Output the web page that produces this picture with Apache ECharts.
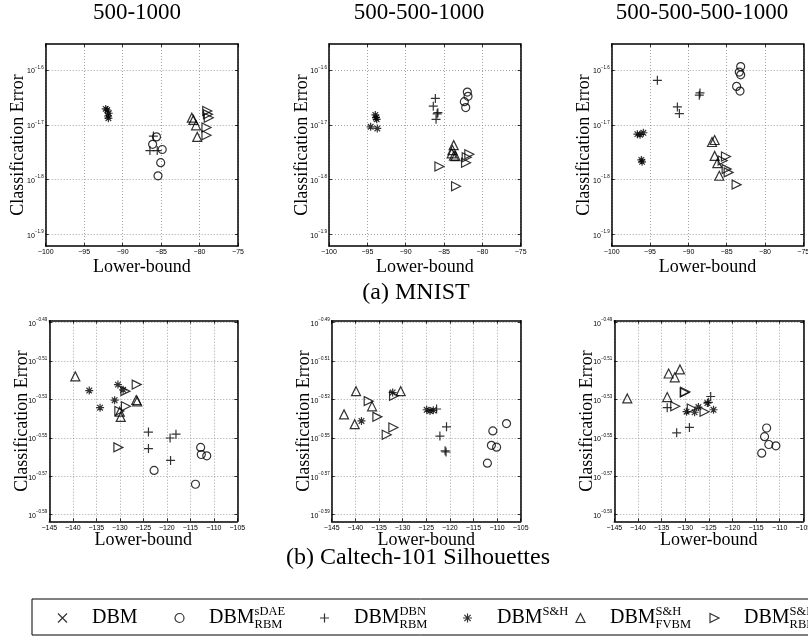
<!DOCTYPE html>
<html><head><meta charset="utf-8">
<script src="https://cdn.jsdelivr.net/npm/echarts@6/dist/echarts.min.js"></script>
<style>html,body{margin:0;padding:0;background:#fff}#c{width:808px;height:637px}</style>
</head><body><div id="c"></div>
<script>
// ---------- text ----------
const columnTitles = ['500-1000', '500-500-1000', '500-500-500-1000'];
const captions = ['(a) MNIST', '(b) Caltech-101 Silhouettes'];
const xName = 'Lower-bound';
const yName = 'Classification Error';

// ---------- series identity ----------
const seriesIds = ['DBM', 'DBM sDAE RBM', 'DBM DBN RBM', 'DBM S&H', 'DBM S&H FVBM', 'DBM S&H RBM'];
const legendBase = ['DBM', 'DBM', 'DBM', 'DBM', 'DBM', 'DBM'];
const legendSup = ['', 'sDAE', 'DBN', 'S&H', 'S&H', 'S&H'];
const legendSub = ['', 'RBM', 'RBM', '', 'FVBM', 'RBM'];

// ---------- axis ranges / ticks (y values are log10 of the classification error) ----------
const mnistX = [-100, -75];
const caltechX = [-145, -105];
const xStep = 5;
const mnistYTicks = [-1.9, -1.8, -1.7, -1.6];
const mnistY = [-1.9208, -1.5528];
const caltechYTicks = [-0.59, -0.57, -0.55, -0.53, -0.51, -0.49];
const caltechY = [-0.5935, -0.489];

// ---------- data: [lower-bound, log10(error)] ----------
// MNIST 500-1000
const m1_sdae = [[-85.6,-1.722],[-86.1,-1.7355],[-84.85,-1.745],[-85.05,-1.769],[-85.4,-1.793]];
const m1_dbn  = [[-86.0,-1.7205],[-86.45,-1.747],[-85.5,-1.747]];
const m1_sh   = [[-92.2,-1.671],[-92.0,-1.673],[-91.8,-1.679],[-91.9,-1.684],[-91.85,-1.688]];
const m1_fvbm = [[-81.0,-1.687],[-80.8,-1.691],[-80.45,-1.701],[-80.3,-1.722]];
const m1_rbm  = [[-79.0,-1.675],[-78.9,-1.681],[-78.8,-1.687],[-79.1,-1.705],[-79.1,-1.719]];
// MNIST 500-500-1000
const m2_sdae = [[-81.96,-1.6404],[-81.87,-1.6482],[-82.35,-1.6578],[-82.17,-1.6687]];
const m2_dbn  = [[-86.13,-1.652],[-86.4,-1.666],[-85.8,-1.678],[-85.9,-1.680],[-86.04,-1.690]];
const m2_sh   = [[-93.96,-1.682],[-93.87,-1.687],[-93.78,-1.690],[-94.57,-1.7036],[-93.7,-1.7066]];
const m2_fvbm = [[-83.74,-1.737],[-83.9,-1.746],[-84.0,-1.752],[-83.7,-1.756],[-83.5,-1.757]];
const m2_rbm  = [[-85.6,-1.776],[-81.7,-1.7536],[-82.04,-1.759],[-82.13,-1.769],[-83.43,-1.812]];
// MNIST 500-500-500-1000
const m3_sdae = [[-83.17,-1.594],[-83.35,-1.604],[-83.17,-1.609],[-83.7,-1.630],[-83.26,-1.6386]];
const m3_dbn  = [[-94.04,-1.619],[-88.48,-1.642],[-88.57,-1.646],[-91.43,-1.6675],[-91.17,-1.6795]];
const m3_sh   = [[-96.65,-1.717],[-95.87,-1.7145],[-96.3,-1.718],[-96.13,-1.7639],[-96.04,-1.7675]];
const m3_fvbm = [[-86.57,-1.7277],[-86.91,-1.7313],[-86.57,-1.7566],[-86.22,-1.770],[-85.96,-1.7928]];
const m3_rbm  = [[-85.09,-1.7578],[-85.52,-1.765],[-85.0,-1.7807],[-84.74,-1.7867],[-83.7,-1.809]];
// Caltech 500-1000
const c1_sdae = [[-112.8,-0.555],[-112.66,-0.5587],[-111.5,-0.5594],[-122.7,-0.567],[-113.9,-0.5742]];
const c1_dbn  = [[-123.9,-0.547],[-123.9,-0.5556],[-119.3,-0.5501],[-118.05,-0.5481],[-119.2,-0.5618]];
const c1_sh   = [[-136.5,-0.5254],[-130.4,-0.5223],[-129.3,-0.525],[-131.1,-0.5304],[-134.2,-0.5343]];
const c1_fvbm = [[-139.47,-0.518],[-126.5,-0.5303],[-126.3,-0.531],[-130.0,-0.5364],[-129.8,-0.5391]];
const c1_rbm  = [[-126.4,-0.5223],[-128.8,-0.5257],[-128.7,-0.5336],[-130.1,-0.536],[-130.3,-0.555]];
// Caltech 500-500-1000
const c2_sdae = [[-110.9,-0.5464],[-108.0,-0.5426],[-111.2,-0.5539],[-110.1,-0.5549],[-112.05,-0.5632]];
const c2_dbn  = [[-122.8,-0.535],[-120.7,-0.5443],[-122.1,-0.5491],[-120.8,-0.5574],[-121.0,-0.5568]];
const c2_sh   = [[-132.1,-0.5264],[-138.7,-0.5412],[-124.9,-0.5354],[-124.2,-0.536],[-123.5,-0.5357]];
const c2_fvbm = [[-139.85,-0.5257],[-142.39,-0.5378],[-140.13,-0.5429],[-136.46,-0.5336],[-130.4,-0.5257]];
const c2_rbm  = [[-137.17,-0.5309],[-135.33,-0.5391],[-131.95,-0.5446],[-133.36,-0.5484],[-131.8,-0.5281]];
// Caltech 500-500-500-1000
const c3_sdae = [[-112.76,-0.5449],[-113.2,-0.5494],[-112.3,-0.5535],[-110.8,-0.5542],[-113.8,-0.558]];
const c3_dbn  = [[-133.8,-0.5343],[-131.8,-0.5474],[-129.1,-0.5446],[-124.6,-0.5285],[-125.1,-0.5315]];
const c3_sh   = [[-129.7,-0.5364],[-128.0,-0.5367],[-127.2,-0.534],[-125.3,-0.5319],[-124.0,-0.5354]];
const c3_fvbm = [[-142.25,-0.5295],[-133.5,-0.5165],[-132.2,-0.5185],[-131.1,-0.5144],[-133.8,-0.5288]];
const c3_rbm  = [[-130.1,-0.5264],[-132.1,-0.5336],[-128.6,-0.5347],[-125.9,-0.5364],[-130.0,-0.526]];

const panels = [
  [m1_sdae, m1_dbn, m1_sh, m1_fvbm, m1_rbm],
  [m2_sdae, m2_dbn, m2_sh, m2_fvbm, m2_rbm],
  [m3_sdae, m3_dbn, m3_sh, m3_fvbm, m3_rbm],
  [c1_sdae, c1_dbn, c1_sh, c1_fvbm, c1_rbm],
  [c2_sdae, c2_dbn, c2_sh, c2_fvbm, c2_rbm],
  [c3_sdae, c3_dbn, c3_sh, c3_fvbm, c3_rbm]
];

// ---------- styling / layout ----------
const SERIF = 'Liberation Serif';
const SANS = 'Liberation Sans';
const symbols = [
  'path://M0,0L10,10M0,10L10,0',
  'circle',
  'path://M5,0L5,10M0,5L10,5',
  'path://M5,0L5,10M0,5L10,5M1.5,1.5L8.5,8.5M1.5,8.5L8.5,1.5',
  'triangle',
  'path://M0,0L10,5L0,10Z'
];
const symbolSizes = [8, 8, 9, 8, 9, 9];
const gridBoxes = [
  [45.7, 44, 192.3, 202], [329, 44, 191.7, 202], [611.7, 44, 191.6, 202],
  [49.3, 320.7, 188, 200.6], [331.7, 320.7, 189, 200.6], [614.3, 320.7, 189, 200.6]
];
const titleCenters = [137, 419, 702];
const legendCenters = [60, 177, 322, 465, 578, 712];

const markStyle = {color: 'none', borderColor: '#000', borderWidth: 1.2};
const frameLine = {show: true, onZero: false, lineStyle: {color: '#000', width: 1.5}};
const tickStyle = {show: true, inside: true, length: 3, lineStyle: {color: '#000', width: 0.8}};
const gridLine = {show: true, lineStyle: {color: '#8a8a8a', width: 0.8, type: [1, 2]}};
const nameStyle = {fontFamily: SERIF, fontSize: 18, color: '#000'};
const minus = s => s.replace('-', '\u2212');

const grid = [], xAxis = [], yAxis = [], series = [];
gridBoxes.forEach((b, i) => {
  const top = i < 3;
  const xr = top ? mnistX : caltechX;
  const yr = top ? mnistY : caltechY;
  const yt = top ? mnistYTicks : caltechYTicks;
  const dec = top ? 1 : 2;
  grid.push({left: b[0], top: b[1], width: b[2], height: b[3], containLabel: false, outerBoundsMode: 'none'});
  xAxis.push({
    type: 'value', gridIndex: i, min: xr[0], max: xr[1], interval: xStep, position: 'bottom',
    axisLine: frameLine, axisTick: tickStyle, splitLine: gridLine,
    axisLabel: {fontFamily: SANS, fontSize: 7, color: '#000', margin: 3, formatter: v => minus(String(v))},
    name: xName, nameLocation: 'middle', nameGap: top ? 12 : 10, nameTextStyle: nameStyle, nameMoveOverlap: false
  });
  xAxis.push({
    type: 'value', gridIndex: i, min: xr[0], max: xr[1], interval: xStep, position: 'top',
    axisLine: frameLine, axisTick: tickStyle, axisLabel: {show: false}, splitLine: {show: false}
  });
  yAxis.push({
    type: 'value', gridIndex: i, min: yr[0], max: yr[1], position: 'left',
    axisLine: frameLine, axisTick: Object.assign({customValues: yt}, tickStyle), splitLine: gridLine,
    axisLabel: {
      customValues: yt, margin: 2,
      formatter: v => '{b|10}{s|' + minus(v.toFixed(dec)) + '}',
      rich: {
        b: {fontFamily: SANS, fontSize: 7, color: '#000', lineHeight: 10, verticalAlign: 'bottom'},
        s: {fontFamily: SANS, fontSize: 4.5, color: '#000', lineHeight: 6, verticalAlign: 'top'}
      }
    },
    name: yName, nameLocation: 'middle', nameGap: 18, nameRotate: 90, nameTextStyle: nameStyle, nameMoveOverlap: false
  });
  yAxis.push({
    type: 'value', gridIndex: i, min: yr[0], max: yr[1], position: 'right',
    axisLine: frameLine, axisTick: Object.assign({customValues: yt}, tickStyle), axisLabel: {show: false}, splitLine: {show: false}
  });
  panels[i].forEach((data, k) => {
    series.push({
      type: 'scatter', name: seriesIds[k + 1], xAxisIndex: 2 * i, yAxisIndex: 2 * i,
      data: data, symbol: symbols[k + 1], symbolSize: symbolSizes[k + 1],
      itemStyle: markStyle, silent: true
    });
  });
});
// plain DBM: listed in the legend, no points shown
series.push({type: 'scatter', name: seriesIds[0], xAxisIndex: 0, yAxisIndex: 0, data: [],
  symbol: symbols[0], symbolSize: symbolSizes[0], itemStyle: markStyle});

const title = columnTitles.map((t, i) => ({
  text: t, left: titleCenters[i], top: 1, textAlign: 'center', padding: 0,
  textStyle: {fontFamily: SERIF, fontSize: 23, fontWeight: 'normal', color: '#000'}
})).concat([
  {text: captions[0], left: 416, top: 281, textAlign: 'center', padding: 0,
   textStyle: {fontFamily: SERIF, fontSize: 24, fontWeight: 'normal', color: '#000'}},
  {text: captions[1], left: 418, top: 546, textAlign: 'center', padding: 0,
   textStyle: {fontFamily: SERIF, fontSize: 24, fontWeight: 'normal', color: '#000'}}
]);

const legendRich = {
  b: {fontFamily: SERIF, fontSize: 20, color: '#000', lineHeight: 26, padding: [0, 0, 0, 20], verticalAlign: 'middle'},
  p: {fontFamily: SERIF, fontSize: 12.5, color: '#000', lineHeight: 12, verticalAlign: 'top', width: 0, align: 'left'},
  q: {fontFamily: SERIF, fontSize: 12.5, color: '#000', lineHeight: 12, verticalAlign: 'top'},
  s: {fontFamily: SERIF, fontSize: 12.5, color: '#000', lineHeight: 12, verticalAlign: 'bottom'}
};
const legendLabel = name => {
  const k = seriesIds.indexOf(name);
  let t = '{b|' + legendBase[k] + '}';
  if (legendSup[k] && legendSub[k]) t += '{p|' + legendSup[k] + '}{s|' + legendSub[k] + '}';
  else t += '{q|' + (legendSup[k] || ' ') + '}';
  return t;
};
const legend = seriesIds.map((n, k) => ({
  data: [{name: n, icon: symbols[k], itemStyle: markStyle}],
  left: legendCenters[k] - 4.5, top: 605, padding: 0, itemWidth: 9, itemHeight: 9,
  selectedMode: false, formatter: legendLabel,
  textStyle: {fontFamily: SERIF, fontSize: 20, color: '#000', rich: legendRich}
}));

const chart = echarts.init(document.getElementById('c'), null, {renderer: 'canvas'});
chart.setOption({
  backgroundColor: '#fff', animation: false,
  title, legend, grid, xAxis, yAxis, series,
  graphic: [{type: 'rect', z: 0, shape: {x: 32, y: 599, width: 800, height: 36},
    style: {fill: 'none', stroke: '#000', lineWidth: 1}}]
});
</script></body></html>
